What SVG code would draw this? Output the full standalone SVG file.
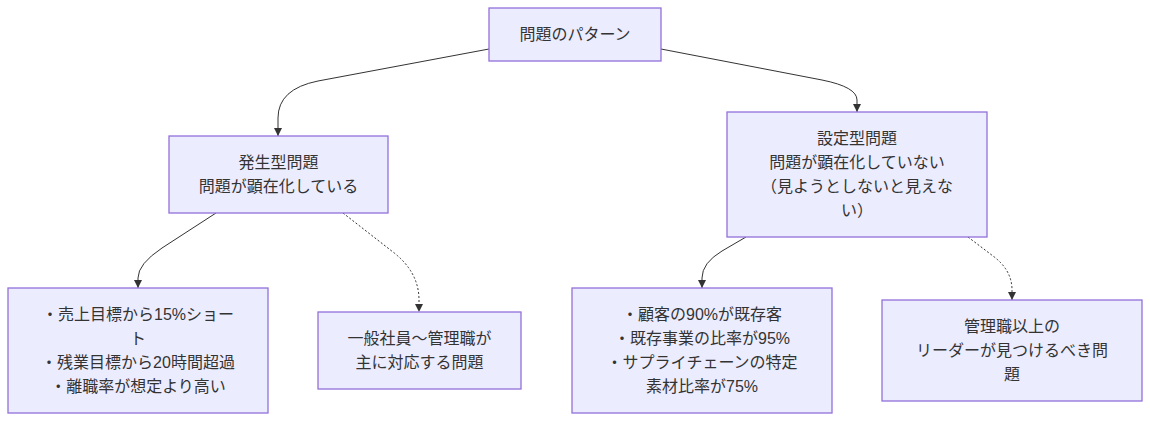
<svg xmlns="http://www.w3.org/2000/svg" width="1150" height="422" viewBox="0 0 1150 422">
<style>
.node rect{fill:#ECECFF;stroke:#9370DB;stroke-width:1.3}
.node text{font-family:"Liberation Sans","Noto Sans CJK JP",sans-serif;font-size:16px;fill:#333;text-anchor:middle;dominant-baseline:central}
.edge{fill:none;stroke:#333;stroke-width:1}
.dashed{stroke-dasharray:2 2}
</style>
<defs>
<marker id="arrow" viewBox="0 0 10 10" refX="10" refY="5" markerWidth="8" markerHeight="8" markerUnits="userSpaceOnUse" orient="auto">
<path d="M0,0 L10,5 L0,10 z" fill="#333"/>
</marker>
</defs>
<rect width="1150" height="422" fill="#fff"/>
<g id="connectors">
<path class="edge" d="M489,49 L318,81 Q278,89 278,118 L278,136" marker-end="url(#arrow)"/>
<path class="edge" d="M661,49 L822,80 Q857,87 857,100 L857,112" marker-end="url(#arrow)"/>
<path class="edge" d="M216,213 L162,248 Q138,264 138,278 L138,288" marker-end="url(#arrow)"/>
<path class="edge dashed" d="M343,213 L393,252 Q419,272 419,300 L419,312" marker-end="url(#arrow)"/>
<path class="edge" d="M746,237 L722,251 Q702,263 702,278 L702,288" marker-end="url(#arrow)"/>
<path class="edge dashed" d="M968,237 L993,256 Q1012,270 1012,290 L1012,300" marker-end="url(#arrow)"/>
</g>
<g id="root" class="node">
<rect x="489" y="8" width="172" height="53"/>
<text x="575" y="34.5">問題のパターン</text>
</g>
<g id="hassei" class="node">
<rect x="169" y="136" width="219" height="77"/>
<text x="278.5" y="162.5">発生型問題</text>
<text x="278.5" y="186.5">問題が顕在化している</text>
</g>
<g id="settei" class="node">
<rect x="727" y="112" width="260" height="125"/>
<text x="857" y="138.5">設定型問題</text>
<text x="857" y="162.5">問題が顕在化していない</text>
<text x="857" y="186.5">（見ようとしないと見えな</text>
<text x="857" y="210.5">い）</text>
</g>
<g id="leaf1" class="node">
<rect x="8" y="288" width="260" height="125"/>
<text x="138" y="314.5">・売上目標から15%ショー</text>
<text x="138" y="338.5">ト</text>
<text x="138" y="362.5">・残業目標から20時間超過</text>
<text x="138" y="386.5">・離職率が想定より高い</text>
</g>
<g id="leaf2" class="node">
<rect x="318" y="312" width="203" height="77"/>
<text x="419.5" y="338.5">一般社員〜管理職が</text>
<text x="419.5" y="362.5">主に対応する問題</text>
</g>
<g id="leaf3" class="node">
<rect x="572" y="288" width="260" height="125"/>
<text x="702" y="314.5">・顧客の90%が既存客</text>
<text x="702" y="338.5">・既存事業の比率が95%</text>
<text x="702" y="362.5">・サプライチェーンの特定</text>
<text x="702" y="386.5">素材比率が75%</text>
</g>
<g id="leaf4" class="node">
<rect x="882" y="300" width="260" height="101"/>
<text x="1012" y="326.5">管理職以上の</text>
<text x="1012" y="350.5">リーダーが見つけるべき問</text>
<text x="1012" y="374.5">題</text>
</g>
</svg>
